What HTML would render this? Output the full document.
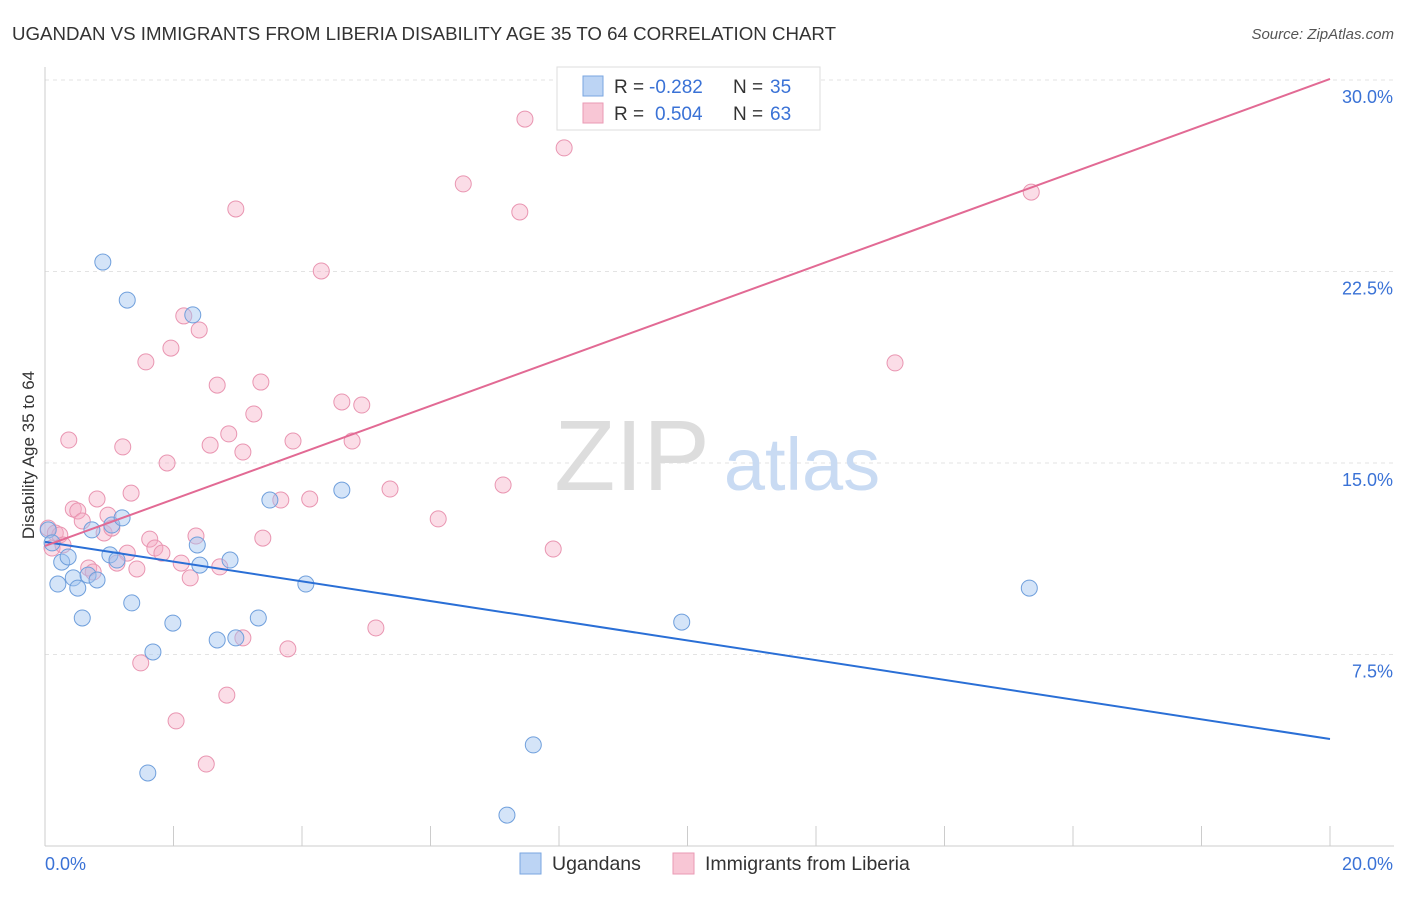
<!DOCTYPE html>
<html><head><meta charset="utf-8"><style>
body{margin:0;background:#fff;font-family:"Liberation Sans",sans-serif}
svg text{font-family:"Liberation Sans",sans-serif}
</style></head><body>
<svg id="c" width="1406" height="892">
<text x="12" y="40" font-size="18" fill="#333" textLength="824" lengthAdjust="spacingAndGlyphs">UGANDAN VS IMMIGRANTS FROM LIBERIA DISABILITY AGE 35 TO 64 CORRELATION CHART</text>
<text x="1394" y="39" font-size="15" fill="#555" font-style="italic" text-anchor="end">Source: ZipAtlas.com</text>
<text x="34" y="455" font-size="17" fill="#333" text-anchor="middle" transform="rotate(-90 34 455)">Disability Age 35 to 64</text>
<g id="grid"></g>
<g><text x="632" y="490" font-size="100" fill="#ddd" text-anchor="middle" font-family="Liberation Serif">ZIP</text><text x="802" y="490" font-size="74" fill="#c9dbf3" text-anchor="middle">atlas</text></g>
<g id="axes"></g>
<g id="pts"></g>
<g id="lines"></g>
<g>
<rect x="557" y="67" width="263" height="63" fill="#fff" stroke="#ddd"/>
<rect x="583" y="76" width="20" height="20" fill="#bcd4f4" stroke="#7aa6e0"/>
<rect x="583" y="103" width="20" height="20" fill="#f8c6d5" stroke="#ea9ab4"/>
<text x="614" y="93" font-size="19" fill="#333">R =</text>
<text x="649" y="93" font-size="19" fill="#3a72d6">-0.282</text>
<text x="733" y="93" font-size="19" fill="#333">N =</text>
<text x="770" y="93" font-size="19" fill="#3a72d6">35</text>
<text x="614" y="120" font-size="19" fill="#333">R =</text>
<text x="655" y="120" font-size="19" fill="#3a72d6">0.504</text>
<text x="733" y="120" font-size="19" fill="#333">N =</text>
<text x="770" y="120" font-size="19" fill="#3a72d6">63</text>
</g>
<g>
<rect x="520" y="853" width="21" height="21" fill="#bcd4f4" stroke="#7aa6e0"/>
<text x="552" y="870" font-size="19.5" fill="#333">Ugandans</text>
<rect x="673" y="853" width="21" height="21" fill="#f8c6d5" stroke="#ea9ab4"/>
<text x="705" y="870" font-size="19.5" fill="#333">Immigrants from Liberia</text>
</g>
</svg>
<script>
const yTicks=[7.5,15,22.5,30];
const yTickLabels=["7.5%","15.0%","22.5%","30.0%"];
const xTicks=[0,2,4,6,8,10,12,14,16,18,20];
const blueX=[0.90,1.28,2.30,0.05,0.11,0.26,0.36,0.20,0.44,0.51,0.67,0.81,0.73,1.04,1.20,1.01,1.12,0.58,1.35,2.37,2.41,2.88,1.99,1.68,2.68,2.97,3.32,4.06,3.50,4.62,1.60,7.60,7.19,9.91,15.32];
const blueY=[22.87,21.38,20.80,12.38,11.87,11.12,11.32,10.26,10.50,10.10,10.61,10.42,12.38,12.57,12.85,11.40,11.20,8.93,9.52,11.79,11.00,11.20,8.73,7.60,8.07,8.15,8.93,10.26,13.55,13.94,2.86,3.96,1.21,8.77,10.10];
const pinkX=[7.47,8.08,6.51,7.39,2.97,4.30,15.35,13.23,2.16,2.40,1.96,1.57,2.68,3.36,4.62,4.93,3.25,2.86,2.57,3.08,3.86,4.78,0.37,1.21,1.90,5.37,7.13,6.12,7.91,1.34,0.81,0.44,0.51,0.58,0.92,0.98,1.04,0.05,0.16,0.23,0.11,0.28,1.63,1.71,1.82,2.35,2.12,1.28,1.12,1.43,0.68,0.75,2.72,2.26,3.39,3.67,4.12,5.15,3.08,3.78,1.49,2.83,2.04,2.51];
const pinkY=[28.47,27.34,25.93,24.83,24.95,22.52,25.61,18.92,20.76,20.21,19.50,18.96,18.05,18.17,17.39,17.27,16.92,16.14,15.70,15.43,15.86,15.86,15.90,15.63,15.00,13.98,14.14,12.81,11.63,13.82,13.59,13.20,13.12,12.73,12.26,12.96,12.45,12.45,12.26,12.18,11.67,11.79,12.02,11.67,11.47,12.14,11.08,11.47,11.08,10.85,10.89,10.73,10.93,10.50,12.06,13.55,13.59,8.54,8.15,7.72,7.17,5.91,4.90,3.21];
const blueTrend=[11.91,4.19];
const pinkTrend=[11.75,30.04];
const NS="http://www.w3.org/2000/svg";
const X=v=>45+v/20*1285, Y=v=>846-v/7.5*191.5;
function mk(t,a,p){const e=document.createElementNS(NS,t);for(const k in a)e.setAttribute(k,a[k]);p.appendChild(e);return e;}
const grid=document.getElementById('grid'),axes=document.getElementById('axes');
yTicks.forEach((t,i)=>{
 const l=mk('line',{x1:45,x2:1394,y1:Y(t),y2:Y(t),stroke:'#e3e3e3','stroke-dasharray':'4,4'},grid);
 
 
 const tx=mk('text',{x:1393,y:Y(t)+23,'font-size':18,fill:'#3a72d6','text-anchor':'end'},axes);
 tx.textContent=yTickLabels[i];
 
 
});
mk('line',{x1:45,x2:45,y1:67,y2:846,stroke:'#ccc'},axes);
mk('line',{x1:45,x2:1394,y1:846,y2:846,stroke:'#ccc'},axes);
xTicks.forEach(t=>{const l=mk('line',{x1:X(t),x2:X(t),y1:826,y2:846,stroke:'#ccc'},axes);
 
 });
let a=mk('text',{x:45,y:870,'font-size':18,fill:'#3a72d6'},axes);a.textContent='0.0%';


a=mk('text',{x:1393,y:870,'font-size':18,fill:'#3a72d6','text-anchor':'end'},axes);a.textContent='20.0%';


const pts=document.getElementById('pts');
pinkX.forEach((v,i)=>{const c=mk('circle',{cx:X(v),cy:Y(pinkY[i]),r:8,fill:'rgba(245,170,195,0.4)',stroke:'#e995b1','stroke-width':1},pts);
 
 });
blueX.forEach((v,i)=>{const c=mk('circle',{cx:X(v),cy:Y(blueY[i]),r:8,fill:'rgba(160,195,240,0.45)',stroke:'#6f9fdc','stroke-width':1},pts);
 
 });
const lines=document.getElementById('lines');
let t=mk('line',{x1:X(0),y1:Y(blueTrend[0]),x2:X(20),y2:Y(blueTrend[1]),stroke:'#2a6fd6','stroke-width':2},lines);


t=mk('line',{x1:X(0),y1:Y(pinkTrend[0]),x2:X(20),y2:Y(pinkTrend[1]),stroke:'#e26a94','stroke-width':2},lines);


</script>
</body></html>
